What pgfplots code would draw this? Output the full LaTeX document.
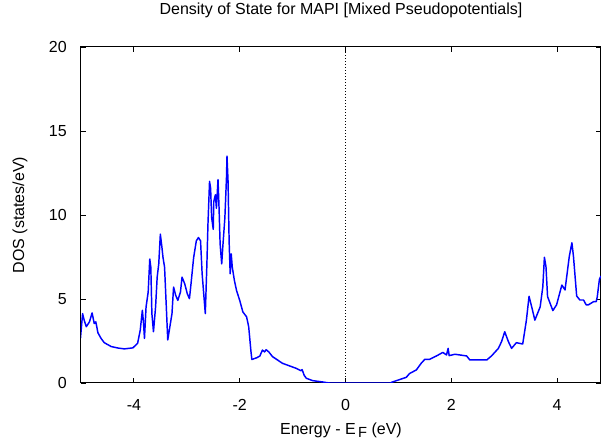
\documentclass[border=0pt]{standalone}
\usepackage{fontspec}
\setmainfont{Liberation Sans}
\usepackage{pgfplots}
\pgfplotsset{compat=1.18}
\begin{document}
\begin{tikzpicture}
\begin{axis}[
  scale only axis,
  width=390pt, height=252pt,
  xmin=-5, xmax=4.83, ymin=0, ymax=20,
  xtick={-4,-2,0,2,4}, ytick={0,5,10,15,20},
  tick align=inside,
  major tick length=3.5pt,
  tick style={black, line width=0.6pt},
  axis line style={black, line width=0.75pt},
  font=\fontsize{12}{14}\selectfont,
  /pgf/number format/assume math mode=true,
  xticklabel style={anchor=base, yshift=-20.5pt, inner sep=0pt},
  yticklabel style={anchor=east, xshift=-10.5pt, inner sep=0pt},
  title={Density of State for MAPI [Mixed Pseudopotentials]},
  title style={at={(axis description cs:0.5,1.0715)}, anchor=base, inner sep=0pt},
  xlabel={Energy - E\raisebox{-0.35ex}{\fontsize{11}{12}\selectfont\,F} (eV)},
  xlabel style={at={(axis description cs:0.5,-0.153)}, anchor=base, inner sep=0pt},
  ylabel={DOS (states/eV)},
  ylabel style={at={(axis description cs:-0.1173,0.5)}, anchor=center, inner sep=0pt},
  clip=true,
]
\addplot[black, line width=0.6pt, dash pattern=on 0.75pt off 1.5pt] coordinates {(0,0) (0,20)};
\addplot[color={rgb,255:red,0;green,0;blue,255}, line width=1.1pt, line join=round] coordinates {
(-5.01,2.66) (-4.97,4.13) (-4.94,3.74) (-4.90,3.35) (-4.84,3.64) (-4.79,4.17) (-4.75,3.54) (-4.72,3.64) (-4.68,2.99) (-4.62,2.65) (-4.56,2.40) (-4.43,2.17) (-4.30,2.08) (-4.18,2.03) (-4.02,2.09) (-3.93,2.36) (-3.88,3.15) (-3.84,4.33) (-3.82,3.64) (-3.80,2.66) (-3.77,4.53) (-3.73,5.41) (-3.70,7.38) (-3.68,6.89) (-3.66,4.13) (-3.63,3.05) (-3.59,4.53) (-3.56,6.30) (-3.53,7.09) (-3.50,8.86) (-3.47,8.07) (-3.45,7.48) (-3.42,6.89) (-3.39,4.72) (-3.36,2.56) (-3.33,3.15) (-3.28,4.13) (-3.25,5.71) (-3.21,5.22) (-3.17,4.92) (-3.12,5.41) (-3.09,6.30) (-3.04,5.91) (-2.99,5.31) (-2.95,5.02) (-2.92,5.91) (-2.87,7.48) (-2.82,8.46) (-2.78,8.66) (-2.74,8.46) (-2.71,6.50) (-2.68,5.31) (-2.65,4.13) (-2.62,7.09) (-2.60,9.45) (-2.57,12.0) (-2.55,11.6) (-2.53,9.84) (-2.50,9.15) (-2.49,10.8) (-2.46,11.2) (-2.44,10.4) (-2.41,12.1) (-2.39,10.4) (-2.37,8.27) (-2.34,7.09) (-2.32,8.07) (-2.28,9.84) (-2.25,12.2) (-2.24,13.5) (-2.22,12.0) (-2.20,8.46) (-2.18,6.50) (-2.16,7.68) (-2.14,6.89) (-2.10,6.10) (-2.06,5.51) (-2.00,4.92) (-1.94,4.23) (-1.87,3.94) (-1.83,3.35) (-1.79,1.97) (-1.77,1.40) (-1.68,1.50) (-1.62,1.60) (-1.57,1.96) (-1.53,1.85) (-1.50,1.98) (-1.45,1.85) (-1.38,1.57) (-1.19,1.17) (-0.93,0.87) (-0.84,0.73) (-0.82,0.80) (-0.78,0.45) (-0.74,0.28) (-0.62,0.14) (-0.43,0.06) (-0.35,0.02) (-0.30,0.0) (0.85,0.0) (0.87,0.04) (1.02,0.2) (1.15,0.34) (1.21,0.56) (1.34,0.78) (1.43,1.17) (1.50,1.41) (1.59,1.41) (1.72,1.61) (1.84,1.82) (1.91,1.67) (1.94,2.06) (1.96,1.63) (2.07,1.71) (2.29,1.61) (2.35,1.37) (2.67,1.37) (2.76,1.61) (2.89,2.06) (2.95,2.46) (3.01,3.05) (3.08,2.46) (3.14,2.06) (3.23,2.40) (3.35,2.32) (3.42,3.74) (3.47,5.16) (3.52,4.53) (3.58,3.74) (3.68,4.53) (3.73,5.72) (3.76,7.48) (3.79,6.92) (3.82,5.14) (3.92,4.31) (3.99,4.65) (4.09,5.83) (4.15,5.54) (4.23,7.52) (4.28,8.35) (4.31,7.52) (4.37,5.18) (4.43,4.94) (4.50,4.94) (4.55,4.65) (4.59,4.65) (4.69,4.84) (4.74,4.84) (4.76,5.14) (4.80,6.17) (4.83,6.37)
};
\end{axis}
\pgfresetboundingbox
\path ([shift={(-60.75pt,-43.5pt)}]current axis.south west) rectangle ([shift={(0pt,35.25pt)}]current axis.north east);
\end{tikzpicture}
\end{document}
